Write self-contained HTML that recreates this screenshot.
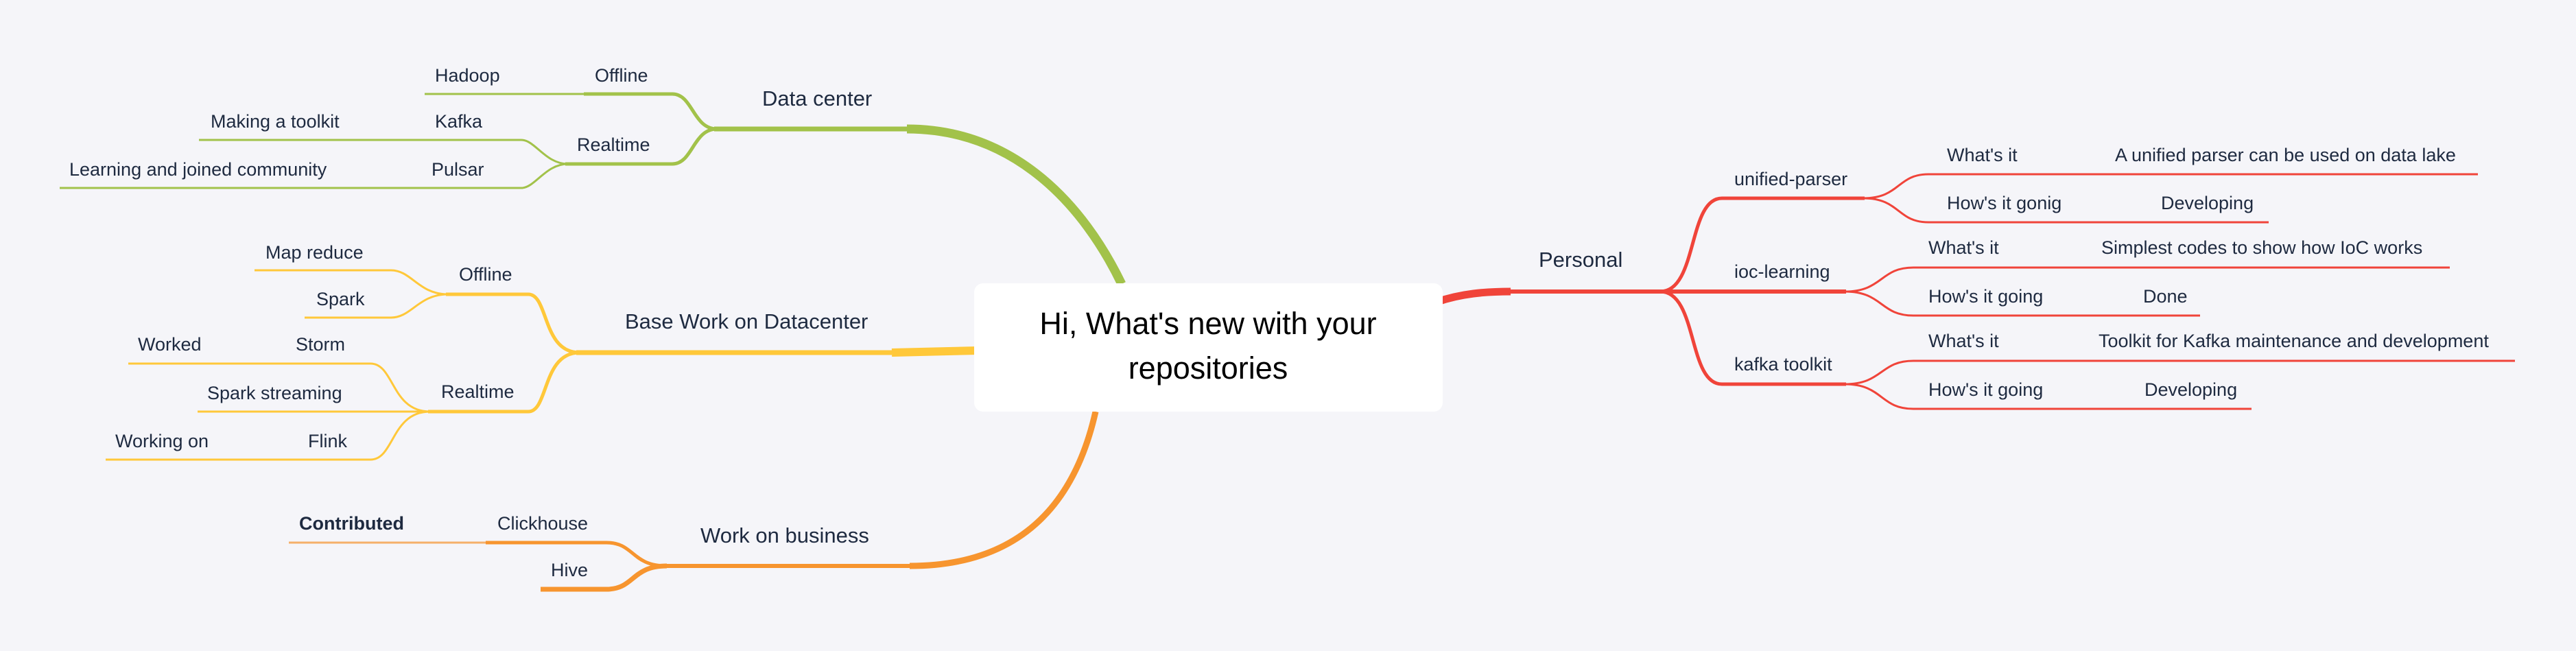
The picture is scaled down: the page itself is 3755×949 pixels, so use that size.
<!DOCTYPE html>
<html><head><meta charset="utf-8"><style>
html,body{margin:0;padding:0;background:#f5f5f9;}
svg{display:block;}
text{font-family:"Liberation Sans",sans-serif;fill:#1e2a40;font-size:27px;dominant-baseline:middle;}
.l1{font-size:31px;}
</style></head><body>
<svg width="3755" height="949" viewBox="0 0 3755 949" xmlns="http://www.w3.org/2000/svg">
<rect width="3755" height="949" fill="#f5f5f9"/>
<g fill="none" stroke-linecap="butt">
<!-- Green: Data center -->
<path d="M1322,188 C1480,188 1580,300 1635,414" stroke="#a2c24a" stroke-width="13"/>
<path d="M1041,188 L1322,188" stroke="#a2c24a" stroke-width="7"/>
<path d="M1045,188 C1010,188 1010,137 980,137 L851,137" stroke="#a2c24a" stroke-width="5"/>
<path d="M851,137 L619,137" stroke="#a2c24a" stroke-width="3"/>
<path d="M1045,188 C1010,188 1010,239 980,239 L824,239" stroke="#a2c24a" stroke-width="5"/>
<path d="M828,239 C795,239 780,204 760,204 L290,204" stroke="#a2c24a" stroke-width="3"/>
<path d="M828,239 C795,239 780,274 760,274 L87,274" stroke="#a2c24a" stroke-width="3"/>
<!-- Yellow: Base Work -->
<path d="M1300,514 L1425,511" stroke="#ffc83a" stroke-width="12"/>
<path d="M840,514 L1300,514" stroke="#ffc83a" stroke-width="7"/>
<path d="M845,514 C790,514 800,429 770,429 L650,429" stroke="#ffc83a" stroke-width="5"/>
<path d="M653,429 C610,429 600,394 570,394 L371,394" stroke="#ffc83a" stroke-width="3"/>
<path d="M653,429 C610,429 600,463 570,463 L444,463" stroke="#ffc83a" stroke-width="3"/>
<path d="M845,514 C790,514 800,600 770,600 L624,600" stroke="#ffc83a" stroke-width="5"/>
<path d="M627,600 C570,600 575,530 540,530 L187,530" stroke="#ffc83a" stroke-width="3"/>
<path d="M627,600 L288,600" stroke="#ffc83a" stroke-width="3"/>
<path d="M627,600 C570,600 575,670 540,670 L154,670" stroke="#ffc83a" stroke-width="3"/>
<!-- Orange: Work on business -->
<path d="M1326,825 C1500,825 1570,720 1597,600" stroke="#f7952f" stroke-width="9"/>
<path d="M968,825 L1326,825" stroke="#f7952f" stroke-width="6"/>
<path d="M972,825 C920,825 925,791 884,791 L708,791" stroke="#f7952f" stroke-width="5"/>
<path d="M708,791 L421,791" stroke="#f5b06a" stroke-width="3"/>
<path d="M972,825 C920,825 925,859 884,859 L788,859" stroke="#f7952f" stroke-width="7"/>
<!-- Red: Personal -->
<path d="M2095,440 C2130,428 2165,425 2202,425" stroke="#f0443a" stroke-width="11"/>
<path d="M2202,425 L2691,425" stroke="#f0443a" stroke-width="6"/>
<path d="M2420,425 C2475,425 2460,289 2510,289 L2718,289" stroke="#f0443a" stroke-width="5"/>
<path d="M2420,425 C2475,425 2460,560 2510,560 L2691,560" stroke="#f0443a" stroke-width="5"/>
<path d="M2716,289 C2770,289 2765,254 2811,254 L3612,254" stroke="#f0443a" stroke-width="3"/>
<path d="M2716,289 C2770,289 2765,324 2811,324 L3307,324" stroke="#f0443a" stroke-width="3"/>
<path d="M2689,425 C2745,425 2740,390 2789,390 L3571,390" stroke="#f0443a" stroke-width="3"/>
<path d="M2689,425 C2745,425 2740,460 2789,460 L3207,460" stroke="#f0443a" stroke-width="3"/>
<path d="M2689,560 C2745,560 2740,526 2789,526 L3666,526" stroke="#f0443a" stroke-width="3"/>
<path d="M2689,560 C2745,560 2740,596 2789,596 L3282,596" stroke="#f0443a" stroke-width="3"/>
</g>
<rect x="1420" y="413" width="683" height="187" rx="13" fill="#fff"/>
<text x="1761" y="475" text-anchor="middle" style="font-size:45px;fill:#000">Hi, What's new with your</text>
<text x="1761" y="540" text-anchor="middle" style="font-size:45px;fill:#000">repositories</text>

<text class="l1" x="1111" y="146">Data center</text>
<text x="867" y="112">Offline</text>
<text x="634" y="112">Hadoop</text>
<text x="841" y="213">Realtime</text>
<text x="634" y="179">Kafka</text>
<text x="307" y="179">Making a toolkit</text>
<text x="629" y="249">Pulsar</text>
<text x="101" y="249">Learning and joined community</text>

<text class="l1" x="911" y="471">Base Work on Datacenter</text>
<text x="669" y="402">Offline</text>
<text x="387" y="370">Map reduce</text>
<text x="461" y="438">Spark</text>
<text x="643" y="573">Realtime</text>
<text x="431" y="504">Storm</text>
<text x="201" y="504">Worked</text>
<text x="302" y="575">Spark streaming</text>
<text x="449" y="645">Flink</text>
<text x="168" y="645">Working on</text>

<text class="l1" x="1021" y="783">Work on business</text>
<text x="725" y="765">Clickhouse</text>
<text x="436" y="765" style="font-weight:bold">Contributed</text>
<text x="803" y="833">Hive</text>

<text class="l1" x="2243" y="381">Personal</text>
<text x="2528" y="263">unified-parser</text>
<text x="2528" y="398">ioc-learning</text>
<text x="2528" y="533">kafka toolkit</text>
<text x="2838" y="228">What's it</text>
<text x="3083" y="228">A unified parser can be used on data lake</text>
<text x="2838" y="298">How's it gonig</text>
<text x="3150" y="298">Developing</text>
<text x="2811" y="363">What's it</text>
<text x="3063" y="363">Simplest codes to show how IoC works</text>
<text x="2811" y="434">How's it going</text>
<text x="3124" y="434">Done</text>
<text x="2811" y="499">What's it</text>
<text x="3059" y="499">Toolkit for Kafka maintenance and development</text>
<text x="2811" y="570">How's it going</text>
<text x="3126" y="570">Developing</text>
</svg>
</body></html>
